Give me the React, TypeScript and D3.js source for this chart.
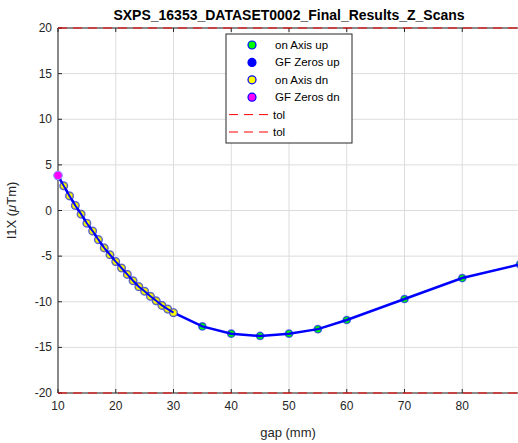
import React from "react";
import * as d3 from "d3";

const upGap = [10, 11, 12, 13, 14, 15, 16, 17, 18, 19, 20, 21, 22, 23, 24, 25, 26, 27, 28, 29, 30, 35, 40, 45, 50, 55, 60, 70, 80, 90];
const upVal = [3.8, 2.7, 1.6, 0.55, -0.4, -1.4, -2.25, -3.2, -4.1, -4.85, -5.6, -6.3, -7.0, -7.7, -8.35, -8.85, -9.4, -9.9, -10.4, -10.8, -11.2, -12.7, -13.5, -13.75, -13.5, -13.0, -12.0, -9.7, -7.4, -5.9];
const dnGap = [10, 11, 12, 13, 14, 15, 16, 17, 18, 19, 20, 21, 22, 23, 24, 25, 26, 27, 28, 29, 30];
const dnVal = [3.85, 2.7, 1.6, 0.55, -0.4, -1.4, -2.25, -3.2, -4.1, -4.85, -5.6, -6.3, -7.0, -7.7, -8.35, -8.85, -9.4, -9.9, -10.4, -10.8, -11.2];
const gfUpGap = [10];
const gfUpVal = [3.8];
const gfDnGap = [10];
const gfDnVal = [3.85];
const tolVals = [20, -20];
const xTicks = [10, 20, 30, 40, 50, 60, 70, 80];
const yTicks = [-20, -15, -10, -5, 0, 5, 10, 15, 20];
const legendLabels = ["on Axis up", "GF Zeros up", "on Axis dn", "GF Zeros dn", "tol", "tol"];

export default function App() {
  const W = 518, H = 443;
  const L = 58, R = 520, T = 28, B = 393;
  const x = d3.scaleLinear().domain([10, 90]).range([L, R]);
  const y = d3.scaleLinear().domain([-20, 20]).range([B, T]);
  const line = d3.line<[number, number]>().x(d => x(d[0])).y(d => y(d[1]));
  const up: [number, number][] = upGap.map((g, i) => [g, upVal[i]]);
  const dn: [number, number][] = dnGap.map((g, i) => [g, dnVal[i]]);
  const font = "Helvetica, Arial, 'Liberation Sans', sans-serif";
  const tc = "#262626";
  const legX = 226, legY = 34, legW = 126, legH = 109;
  const rowY = (i: number) => legY + 11 + i * 17.4;
  const mk = ["#00ff00", "#0000ff", "#ffff00", "#ff00ff"];
  return (
    <svg width={W} height={H} style={{ position: "absolute", left: 0, top: 0 }} fontFamily={font}>
      <rect x={0} y={0} width={W} height={H} fill="#fff" />
      <defs>
        <clipPath id="pc"><rect x={L} y={T - 2} width={R - L} height={B - T + 4} /></clipPath>
      </defs>
      {xTicks.map(t => (
        <line key={"gx" + t} x1={x(t)} x2={x(t)} y1={T} y2={B} stroke="#dcdcdc" strokeWidth={1} />
      ))}
      {yTicks.map(t => (
        <line key={"gy" + t} x1={L} x2={R} y1={y(t)} y2={y(t)} stroke="#dcdcdc" strokeWidth={1} />
      ))}
      <line x1={L} x2={L} y1={T} y2={B} stroke={tc} strokeWidth={1} />
      <line x1={L} x2={R} y1={B} y2={B} stroke={tc} strokeWidth={1} />
      <line x1={L} x2={R} y1={T} y2={T} stroke={tc} strokeWidth={1} />
      {xTicks.map(t => (
        <g key={"xt" + t}>
          <line x1={x(t)} x2={x(t)} y1={B} y2={B - 4} stroke={tc} />
          <line x1={x(t)} x2={x(t)} y1={T} y2={T + 4} stroke={tc} />
          <text x={x(t)} y={B + 17} fontSize={12} fill={tc} textAnchor="middle">{t}</text>
        </g>
      ))}
      {yTicks.map(t => (
        <g key={"yt" + t}>
          <line x1={L} x2={L + 4} y1={y(t)} y2={y(t)} stroke={tc} />
          <text x={L - 6} y={y(t) + 4} fontSize={12} fill={tc} textAnchor="end">{t}</text>
        </g>
      ))}
      <text x={(L + R) / 2 - 1} y={437} fontSize={13} fill={tc} textAnchor="middle">gap (mm)</text>
      <text transform={`translate(16,${(T + B) / 2}) rotate(-90)`} fontSize={13} fill={tc} textAnchor="middle">
        I1X (<tspan fontStyle="italic">μ</tspan>Tm)
      </text>
      <text x={289} y={20} fontSize={14} fontWeight="bold" fill="#000" textAnchor="middle">SXPS_16353_DATASET0002_Final_Results_Z_Scans</text>
      <g clipPath="url(#pc)">
        {tolVals.map((v, i) => (
          <line key={"tol" + i} x1={L} x2={R} y1={y(v)} y2={y(v)} stroke="#ff0000" strokeWidth={1} strokeDasharray="9,6" />
        ))}
      </g>
      {upGap.map((g, i) => (
        <circle key={"u" + i} cx={x(g)} cy={y(upVal[i])} r={3.6} fill="#00ff00" stroke="#0000ff" strokeOpacity={0.6} strokeWidth={1.5} />
      ))}
      {gfUpGap.map((g, i) => (
        <circle key={"gu" + i} cx={x(g)} cy={y(gfUpVal[i])} r={3.6} fill="#0000ff" stroke="#0000ff" strokeWidth={1} />
      ))}
      <g clipPath="url(#pc)">
        <path d={line(up) || ""} fill="none" stroke="#0000ff" strokeWidth={2.5} />
      </g>
      {dnGap.map((g, i) => (
        <circle key={"d" + i} cx={x(g)} cy={y(dnVal[i])} r={3.6} fill="#ffff00" stroke="#3333cc" strokeOpacity={0.45} strokeWidth={1.8} />
      ))}
      <g clipPath="url(#pc)">
        <path d={line(dn) || ""} fill="none" stroke="#0000ff" strokeWidth={2} />
      </g>
      {gfDnGap.map((g, i) => (
        <circle key={"gd" + i} cx={x(g)} cy={y(gfDnVal[i])} r={4.2} fill="#ff00ff" stroke="#9999ff" strokeWidth={1} />
      ))}
      <rect x={legX} y={legY} width={legW} height={legH} fill="#fff" stroke={tc} strokeWidth={1} />
      {legendLabels.map((lab, i) => (
        <g key={"lg" + i}>
          {i < 4 ? (
            <circle cx={252} cy={rowY(i)} r={4} fill={mk[i]} stroke="#0000ff" strokeWidth={1.2} />
          ) : (
            <line x1={229} x2={272} y1={rowY(i)} y2={rowY(i)} stroke="#ff0000" strokeWidth={1} strokeDasharray="9,6" />
          )}
          <text x={i < 4 ? 275 : 273} y={rowY(i) + 4} fontSize={11.5} fill="#000">{lab}</text>
        </g>
      ))}
    </svg>
  );
}
